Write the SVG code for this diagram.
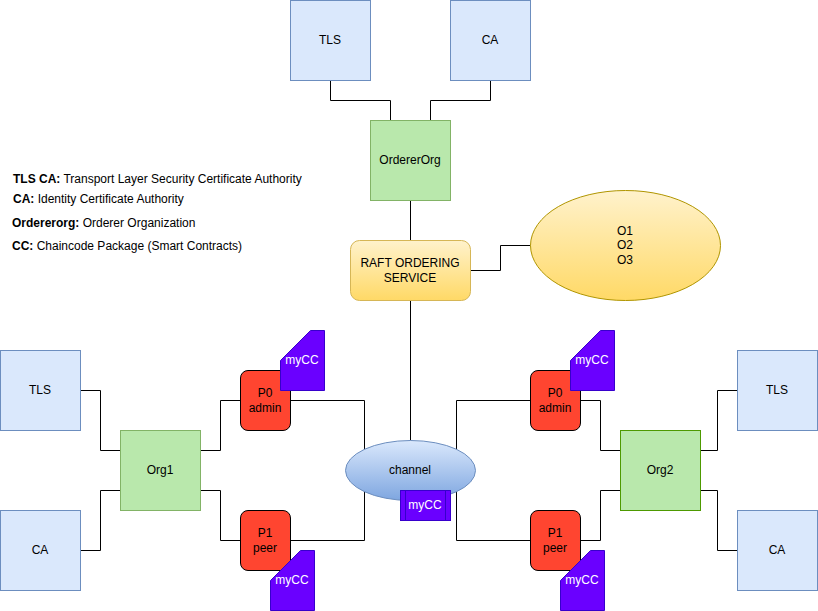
<svg xmlns="http://www.w3.org/2000/svg" width="818" height="611" viewBox="0 0 818 611">
<style>
text{font-family:"Liberation Sans",Arial,sans-serif;font-size:12px;fill:#000;text-anchor:middle}
.w{fill:#fff}
.l{text-anchor:start}
.b{font-weight:bold}
.blue{fill:#dae8fc;stroke:#6c8ebf}
.green{fill:#b9e8ac;stroke:#82b366}
.green2{fill:#b9e8ac;stroke:#4d9900}
.red{fill:#ff4530;stroke:#000}
.cc{fill:#6a00ff;stroke:#3700cc}
#conn path{fill:none;stroke:#000;stroke-width:1}
</style>
<defs>
<linearGradient id="y" x1="0" y1="0" x2="0" y2="1"><stop offset="0" stop-color="#fff2cc"/><stop offset="1" stop-color="#ffd966"/></linearGradient>
<linearGradient id="b" x1="0" y1="0" x2="0" y2="1"><stop offset="0" stop-color="#dae8fc"/><stop offset="1" stop-color="#7ea6e0"/></linearGradient>
</defs>
<g id="conn">
<path d="M330.5 80.5V100.5H390.5V120.5"/>
<path d="M490.5 80.5V100.5H430.5V120.5"/>
<path d="M410.5 200.5V240.5"/>
<path d="M470.5 270.5H500.5V245.5H530.5"/>
<path d="M410.5 300.5V440.5"/>
<path d="M80.5 390.5H100.5V450.5H120.5"/>
<path d="M80.5 550.5H100.5V490.5H120.5"/>
<path d="M200.5 450.5H220.5V400.5H240.5"/>
<path d="M200.5 490.5H220.5V540.5H240.5"/>
<path d="M290.5 400.5H364.5V450"/>
<path d="M290.5 540.5H364.5V491"/>
<path d="M530.5 400.5H456.5V450"/>
<path d="M530.5 540.5H456.5V491"/>
<path d="M620.5 450.5H600.5V400.5H580.5"/>
<path d="M620.5 490.5H600.5V540.5H580.5"/>
<path d="M737.5 390.5H717.5V450.5H700.5"/>
<path d="M737.5 550.5H717.5V490.5H700.5"/>
</g>
<g id="tls-top"><rect class="blue" x="290.5" y="0.5" width="80" height="80"/><text x="330" y="44">TLS</text></g>
<g id="ca-top"><rect class="blue" x="450.5" y="0.5" width="80" height="80"/><text x="490" y="44">CA</text></g>
<g id="ordererorg"><rect class="green" x="370.5" y="120.5" width="80" height="80"/><text x="410" y="164">OrdererOrg</text></g>
<g id="raft"><rect x="350.5" y="240.5" width="120" height="60" rx="9" fill="url(#y)" stroke="#d6b656"/><text x="410" y="267">RAFT ORDERING</text><text x="410" y="282">SERVICE</text></g>
<g id="orderers"><ellipse cx="625.5" cy="245.5" rx="95" ry="55" fill="url(#y)" stroke="#b09500"/><text x="625" y="235">O1</text><text x="625" y="249">O2</text><text x="625" y="264">O3</text></g>
<g id="legend">
<text class="l" x="13" y="183"><tspan class="b">TLS CA:</tspan> Transport Layer Security Certificate Authority</text>
<text class="l" x="13" y="203"><tspan class="b">CA:</tspan> Identity Certificate Authority</text>
<text class="l" x="12" y="227"><tspan class="b">Ordererorg:</tspan> Orderer Organization</text>
<text class="l" x="12" y="250"><tspan class="b">CC:</tspan> Chaincode Package (Smart Contracts)</text>
</g>
<g id="tls-left"><rect class="blue" x="0.5" y="350.5" width="80" height="80"/><text x="40" y="394">TLS</text></g>
<g id="ca-left"><rect class="blue" x="0.5" y="510.5" width="80" height="80"/><text x="40" y="554">CA</text></g>
<g id="org1"><rect class="green" x="120.5" y="430.5" width="80" height="80"/><text x="160" y="474">Org1</text></g>
<g id="p0-left"><rect class="red" x="240.5" y="370.5" width="50" height="60" rx="7.5"/><text x="265" y="397">P0</text><text x="265" y="412">admin</text></g>
<g id="p1-left"><rect class="red" x="240.5" y="510.5" width="50" height="60" rx="7.5"/><text x="265" y="537">P1</text><text x="265" y="552">peer</text></g>
<g id="mycc-p0-left"><path class="cc" d="M280.5 360.5L310.5 330.5H324.5V390.5H280.5Z"/><text class="w" x="302" y="364">myCC</text></g>
<g id="mycc-p1-left"><path class="cc" d="M270.5 580.5L300.5 550.5H314.5V610.5H270.5Z"/><text class="w" x="292" y="584">myCC</text></g>
<g id="channel"><ellipse cx="410.5" cy="470.5" rx="65" ry="30" fill="url(#b)" stroke="#6c8ebf"/><text x="410" y="474">channel</text></g>
<g id="mycc-channel"><rect class="cc" x="400.5" y="490.5" width="50" height="30"/><path class="cc" d="M405.5 490.5V520.5M445.5 490.5V520.5"/><text class="w" x="425" y="509">myCC</text></g>
<g id="p0-right"><rect class="red" x="530.5" y="370.5" width="50" height="60" rx="7.5"/><text x="555" y="397">P0</text><text x="555" y="412">admin</text></g>
<g id="p1-right"><rect class="red" x="530.5" y="510.5" width="50" height="60" rx="7.5"/><text x="555" y="537">P1</text><text x="555" y="552">peer</text></g>
<g id="mycc-p0-right"><path class="cc" d="M570.5 360.5L600.5 330.5H614.5V390.5H570.5Z"/><text class="w" x="592" y="364">myCC</text></g>
<g id="mycc-p1-right"><path class="cc" d="M560.5 580.5L590.5 550.5H604.5V610.5H560.5Z"/><text class="w" x="582" y="584">myCC</text></g>
<g id="org2"><rect class="green2" x="620.5" y="430.5" width="80" height="80"/><text x="660" y="474">Org2</text></g>
<g id="tls-right"><rect class="blue" x="737.5" y="350.5" width="80" height="80"/><text x="777" y="394">TLS</text></g>
<g id="ca-right"><rect class="blue" x="737.5" y="510.5" width="80" height="80"/><text x="777" y="554">CA</text></g>
</svg>
